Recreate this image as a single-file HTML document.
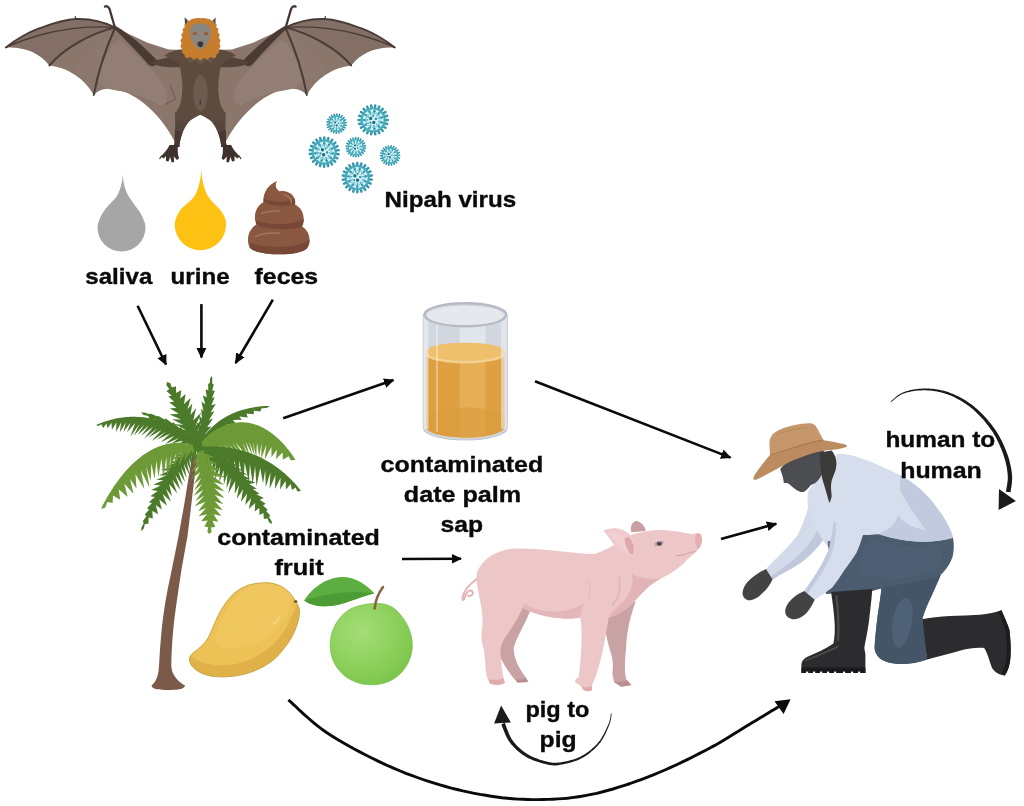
<!DOCTYPE html>
<html><head><meta charset="utf-8">
<style>
html,body{margin:0;padding:0;background:#fff;}
body{width:1024px;height:806px;overflow:hidden;font-family:"Liberation Sans",sans-serif;}
svg{display:block;position:absolute;left:0;top:0;}
text{font-family:"Liberation Sans",sans-serif;font-weight:bold;font-size:22px;fill:#0a0a0a;stroke:#0a0a0a;stroke-width:0.35px;}
</style></head><body>
<svg width="1024" height="806" viewBox="0 0 1024 806">
<defs>
<marker id="ah" viewBox="0 0 10 10" refX="9" refY="5" markerWidth="10.5" markerHeight="10.5" markerUnits="userSpaceOnUse" orient="auto"><path d="M0,0.3 L10,5 L0,9.7 Z" fill="#0a0a0a"/></marker>
<filter id="idf" x="0" y="0" width="1024" height="806" filterUnits="userSpaceOnUse" color-interpolation-filters="sRGB"><feOffset dx="0" dy="0"/></filter>
</defs>
<rect width="1024" height="806" fill="#fff"/>

<!--BAT-->
<defs>
<g id="batwing">
<!-- membrane -->
<path d="M5.9,47.4 C15,40 30,31 42.2,27.4 C55,22.5 66,19.5 75.9,19 C88,18.5 102,21 114.9,27.4 L147.6,42.8 L168.7,49.5 L184,50 L184,116 L178,125 L175.6,143.2 C152,97 110,78 93.8,94.9 C84.3,78 67.5,67.5 49.5,65.4 C40,52.7 23.2,46.4 5.9,47.4 Z" fill="#8a766b"/>
<!-- darker outer panels -->
<path d="M5.9,47.4 C15,40 30,31 42.2,27.4 C55,22.5 66,19.5 75.9,19 C88,18.5 102,21 114.9,27.4 C88,36 66,50 49.5,65.4 C40,52.7 23.2,46.4 5.9,47.4 Z" fill="#836f66"/>
<!-- lighter inner patches -->
<path d="M119,40 C130,48 142,60 150,68 C158,76 166,86 167,95 C167.5,102 163,107 157,104 C146,98 132,93 120,91 C110,89.5 101,88 99,82 C98,74 102,64 106,56 C110,48 114,42 119,40 Z" fill="#927e74"/>
<path d="M112,33 C100,42 86,54 78,64 C72,70 74,74 82,76 C90,79 96,84 99,82 C100,70 106,52 112,33 Z" fill="#8e7a70" opacity="0.6"/>
<!-- fingers -->
<g fill="none" stroke="#4b3b36" stroke-linecap="round">
<path d="M114.9,27.4 C102,21 88,18.5 75.9,19 C66,19.5 55,22.5 42.2,27.4 C30,31 15,40 5.9,47.4" stroke-width="1.9"/>
<path d="M114.9,27.4 C90,25.5 66,28 42,34.5 C28,38.5 14,43.5 5.9,47.4" stroke-width="1.3"/>
<path d="M114.9,27.4 C90,34 64,48 49.5,65.4" stroke-width="2"/>
<path d="M114.9,28 C106,48 98,72 93.8,94.9" stroke-width="2"/>
<path d="M76,19.2 L75.2,16.6" stroke-width="1.2"/>
</g>
<!-- arm -->
<path d="M113.8,28.6 C124,38 137,52 149,65 C151,66.6 153.5,66.8 155,65.6 L156.5,59.5 C145,48 130,34 116.2,26.2 Z" fill="#493a34"/>
<path d="M150,62 C161,59 172,56.5 184,54 L184,67 C172,67.5 158,68 150,62 Z" fill="#524238"/>
<!-- thumb -->
<path d="M114.9,27.4 C113,21 111,14 109.5,9 C108.5,6.5 106.5,5.8 105,6.6" fill="none" stroke="#453631" stroke-width="2.3" stroke-linecap="round"/>
</g>
</defs>
<g>
<use href="#batwing"/>
<use href="#batwing" transform="translate(400.6,0) scale(-1,1)"/>
<!-- legs -->
<path d="M175.2,112 C175.2,117 175.2,121 175.2,125.2 C175,131 174.8,137 174.6,142.7 L173.6,147 L179.4,147 L179.8,142.7 C180.6,138.6 181.8,134.6 183.4,131 C185,127.4 187,124.2 189.2,121.6 C192.4,118.6 196,116.4 200.3,114.8 C204.6,116.4 208.2,118.6 211.4,121.6 C213.6,124.2 215.6,127.4 217.2,131 C218.8,134.6 220,138.6 220.8,142.7 L221.2,147 L227,147 L226,142.7 C225.8,137 225.6,131 225.4,125.2 C225.4,121 225.4,117 225.4,112 Z" fill="#56453b"/>
<path d="M174.9,130 L174.6,142.7 L173.6,147 L179.4,147 L179.8,142.7 C180.4,139 181.4,135.6 182.6,132.6 Z" fill="#483933"/>
<path d="M225.7,130 L226,142.7 L227,147 L221.2,147 L220.8,142.7 C220.2,139 219.2,135.6 218,132.6 Z" fill="#483933"/>
<!-- feet -->
<g id="batfoot">
<path d="M169.5,145 C168,149 164,153 161,156.5 L163.5,158.5 L166,156 L166,161 L168.6,161.5 L170,157 L171.8,162.5 L174.2,162 L173.8,156.5 L177,160 L179,158.5 C177.5,154 177.5,149 178,145 Z" fill="#3f322d"/>
<path d="M161.5,156 L159.8,158.6" stroke="#3f322d" stroke-width="1.2" stroke-linecap="round"/>
</g>
<use href="#batfoot" transform="translate(400.6,0) scale(-1,1)"/>
<!-- torso -->
<path d="M164.5,55.5 C170,51 180,49 188,49 L212.6,49 C220.6,49 230.6,51 236.1,55.5 C230,59 224,62 221.4,64 C219.5,72 218.3,80 218.2,86 C218.2,94 219.6,102 221,106 C223.6,110 225.6,114 225.8,118 C220,124 212,121 206,117.5 L200.3,114.6 L194.6,117.5 C188.6,121 180.6,124 174.8,118 C175,114 177,110 179.6,106 C181,102 182.4,94 182.4,86 C182.3,80 181.1,72 179.2,64 C176.6,62 170.6,59 164.5,55.5 Z" fill="#5d4b40"/>
<ellipse cx="200.4" cy="93" rx="7.2" ry="18" fill="#6d5b4f"/>
<path d="M200.3,100 L200.3,104" stroke="#40332d" stroke-width="1.2" stroke-linecap="round"/>
<!-- ears -->
<path d="M184.6,17.2 L191.5,24 L185.2,29 Z" fill="#444a54"/>
<path d="M215.6,17.6 L209.2,24 L215.4,29 Z" fill="#444a54"/>
<!-- ruff -->
<path d="M200.4,18.2 C205,17.8 209.5,18.6 212,21 L213.6,20.4 L214.6,23.6 L216.6,24.2 L216.4,27.4 L218.6,29 L217.8,32 L219.8,34.4 L218.8,37.6 L220.6,40.4 L219.4,43.4 L220.6,46.6 L218.8,49.4 L219.2,52.6 L216.6,54.6 L215.8,57.6 L213.5,58.2 L210.5,57 L207.5,60 L204,58 L200.4,61 L197,58 L193.5,60 L190.5,57 L187.5,58.2 L185.2,57.6 L184.4,54.6 L181.8,52.6 L182.2,49.4 L180.4,46.6 L181.6,43.4 L180.4,40.4 L182.2,37.6 L181.2,34.4 L183.2,32 L182.4,29 L184.6,27.4 L184.4,24.2 L186.4,23.6 L187.4,20.4 L189,21 C191.5,18.6 196,17.8 200.4,18.2 Z" fill="#c77d2e"/>
<path d="M187.5,58.2 L190.5,57 L193.5,60 L197,58 L200.4,61 L204,58 L207.5,60 L210.5,57 L213.5,58.2 L211,63 L206,60.5 L200.4,64.5 L195,60.5 L190,63 Z" fill="#6a5648"/>
<!-- face -->
<path d="M200.4,23.5 C206,23.3 210.5,25.5 211,31 C211.4,37 208.5,42 205.8,45.5 C204.5,48 202.5,49 200.4,49 C198.3,49 196.3,48 195,45.5 C192.3,42 189.4,37 189.8,31 C190.3,25.5 194.8,23.3 200.4,23.5 Z" fill="#8b8580"/>
<ellipse cx="194.8" cy="33.6" rx="2.3" ry="1.7" fill="#9c5a2c"/>
<ellipse cx="206" cy="33.6" rx="2.3" ry="1.7" fill="#9c5a2c"/>
<path d="M197.6,42.5 C198.5,41 202.3,41 203.2,42.5 C203.6,45 202.4,47.2 200.4,47.3 C198.4,47.2 197.2,45 197.6,42.5 Z" fill="#3b3436"/>
<!-- scratch marks on left wing -->
<path d="M170.5,85.5 L175.5,99 L165.5,104.5" fill="none" stroke="#7b4a44" stroke-width="0.9" stroke-linecap="round"/>
</g>
<!--/BAT-->

<!--VIRUS-->
<defs><g id="vir">
<circle r="12.6" fill="#d6f3f6"/>
<line x1="11.80" y1="0.00" x2="14.70" y2="0.00" stroke="#3698ac" stroke-width="2.5" stroke-linecap="round"/>
<line x1="11.32" y1="3.32" x2="14.10" y2="4.14" stroke="#3698ac" stroke-width="2.5" stroke-linecap="round"/>
<line x1="9.93" y1="6.38" x2="12.37" y2="7.95" stroke="#3698ac" stroke-width="2.5" stroke-linecap="round"/>
<line x1="7.73" y1="8.92" x2="9.63" y2="11.11" stroke="#3698ac" stroke-width="2.5" stroke-linecap="round"/>
<line x1="4.90" y1="10.73" x2="6.11" y2="13.37" stroke="#3698ac" stroke-width="2.5" stroke-linecap="round"/>
<line x1="1.68" y1="11.68" x2="2.09" y2="14.55" stroke="#3698ac" stroke-width="2.5" stroke-linecap="round"/>
<line x1="-1.68" y1="11.68" x2="-2.09" y2="14.55" stroke="#3698ac" stroke-width="2.5" stroke-linecap="round"/>
<line x1="-4.90" y1="10.73" x2="-6.11" y2="13.37" stroke="#3698ac" stroke-width="2.5" stroke-linecap="round"/>
<line x1="-7.73" y1="8.92" x2="-9.63" y2="11.11" stroke="#3698ac" stroke-width="2.5" stroke-linecap="round"/>
<line x1="-9.93" y1="6.38" x2="-12.37" y2="7.95" stroke="#3698ac" stroke-width="2.5" stroke-linecap="round"/>
<line x1="-11.32" y1="3.32" x2="-14.10" y2="4.14" stroke="#3698ac" stroke-width="2.5" stroke-linecap="round"/>
<line x1="-11.80" y1="0.00" x2="-14.70" y2="0.00" stroke="#3698ac" stroke-width="2.5" stroke-linecap="round"/>
<line x1="-11.32" y1="-3.32" x2="-14.10" y2="-4.14" stroke="#3698ac" stroke-width="2.5" stroke-linecap="round"/>
<line x1="-9.93" y1="-6.38" x2="-12.37" y2="-7.95" stroke="#3698ac" stroke-width="2.5" stroke-linecap="round"/>
<line x1="-7.73" y1="-8.92" x2="-9.63" y2="-11.11" stroke="#3698ac" stroke-width="2.5" stroke-linecap="round"/>
<line x1="-4.90" y1="-10.73" x2="-6.11" y2="-13.37" stroke="#3698ac" stroke-width="2.5" stroke-linecap="round"/>
<line x1="-1.68" y1="-11.68" x2="-2.09" y2="-14.55" stroke="#3698ac" stroke-width="2.5" stroke-linecap="round"/>
<line x1="1.68" y1="-11.68" x2="2.09" y2="-14.55" stroke="#3698ac" stroke-width="2.5" stroke-linecap="round"/>
<line x1="4.90" y1="-10.73" x2="6.11" y2="-13.37" stroke="#3698ac" stroke-width="2.5" stroke-linecap="round"/>
<line x1="7.73" y1="-8.92" x2="9.63" y2="-11.11" stroke="#3698ac" stroke-width="2.5" stroke-linecap="round"/>
<line x1="9.93" y1="-6.38" x2="12.37" y2="-7.95" stroke="#3698ac" stroke-width="2.5" stroke-linecap="round"/>
<line x1="11.32" y1="-3.32" x2="14.10" y2="-4.14" stroke="#3698ac" stroke-width="2.5" stroke-linecap="round"/>
<circle r="11.6" fill="none" stroke="#48aabb" stroke-width="2"/>
<line x1="5.37" y1="1.58" x2="9.98" y2="2.93" stroke="#55b5c4" stroke-width="1.5" stroke-linecap="round"/>
<circle cx="8.54" cy="2.51" r="1.25" fill="#3698ac"/>
<line x1="3.67" y1="4.23" x2="6.81" y2="7.86" stroke="#55b5c4" stroke-width="1.5" stroke-linecap="round"/>
<circle cx="5.83" cy="6.73" r="1.25" fill="#3698ac"/>
<line x1="0.80" y1="5.54" x2="1.48" y2="10.29" stroke="#55b5c4" stroke-width="1.5" stroke-linecap="round"/>
<circle cx="1.27" cy="8.81" r="1.25" fill="#3698ac"/>
<line x1="-2.33" y1="5.09" x2="-4.32" y2="9.46" stroke="#55b5c4" stroke-width="1.5" stroke-linecap="round"/>
<circle cx="-3.70" cy="8.10" r="1.25" fill="#3698ac"/>
<line x1="-4.71" y1="3.03" x2="-8.75" y2="5.62" stroke="#55b5c4" stroke-width="1.5" stroke-linecap="round"/>
<circle cx="-7.49" cy="4.81" r="1.25" fill="#3698ac"/>
<line x1="-5.60" y1="0.00" x2="-10.40" y2="0.00" stroke="#55b5c4" stroke-width="1.5" stroke-linecap="round"/>
<circle cx="-8.90" cy="0.00" r="1.25" fill="#3698ac"/>
<line x1="-4.71" y1="-3.03" x2="-8.75" y2="-5.62" stroke="#55b5c4" stroke-width="1.5" stroke-linecap="round"/>
<circle cx="-7.49" cy="-4.81" r="1.25" fill="#3698ac"/>
<line x1="-2.33" y1="-5.09" x2="-4.32" y2="-9.46" stroke="#55b5c4" stroke-width="1.5" stroke-linecap="round"/>
<circle cx="-3.70" cy="-8.10" r="1.25" fill="#3698ac"/>
<line x1="0.80" y1="-5.54" x2="1.48" y2="-10.29" stroke="#55b5c4" stroke-width="1.5" stroke-linecap="round"/>
<circle cx="1.27" cy="-8.81" r="1.25" fill="#3698ac"/>
<line x1="3.67" y1="-4.23" x2="6.81" y2="-7.86" stroke="#55b5c4" stroke-width="1.5" stroke-linecap="round"/>
<circle cx="5.83" cy="-6.73" r="1.25" fill="#3698ac"/>
<line x1="5.37" y1="-1.58" x2="9.98" y2="-2.93" stroke="#55b5c4" stroke-width="1.5" stroke-linecap="round"/>
<circle cx="8.54" cy="-2.51" r="1.25" fill="#3698ac"/>
<circle cx="7.30" cy="0.00" r="0.95" fill="#86d0da"/>
<circle cx="6.14" cy="3.95" r="0.95" fill="#86d0da"/>
<circle cx="3.03" cy="6.64" r="0.95" fill="#86d0da"/>
<circle cx="-1.04" cy="7.23" r="0.95" fill="#86d0da"/>
<circle cx="-4.78" cy="5.52" r="0.95" fill="#86d0da"/>
<circle cx="-7.00" cy="2.06" r="0.95" fill="#86d0da"/>
<circle cx="-7.00" cy="-2.06" r="0.95" fill="#86d0da"/>
<circle cx="-4.78" cy="-5.52" r="0.95" fill="#86d0da"/>
<circle cx="-1.04" cy="-7.23" r="0.95" fill="#86d0da"/>
<circle cx="3.03" cy="-6.64" r="0.95" fill="#86d0da"/>
<circle cx="6.14" cy="-3.95" r="0.95" fill="#86d0da"/>
<circle cx="-2.60" cy="-1.40" r="1.70" fill="#1f6f86"/>
<circle cx="0.60" cy="2.60" r="1.70" fill="#1f6f86"/>
<circle cx="2.80" cy="-1.00" r="1.30" fill="#3a93a8"/>
<circle cx="-0.20" cy="-3.80" r="1.10" fill="#3a93a8"/>
<circle cx="-2.80" cy="2.80" r="1.10" fill="#3a93a8"/>
</g></defs>
<use href="#vir" transform="translate(336.6,123.6) rotate(10) scale(0.656)"/>
<use href="#vir" transform="translate(373.2,119.9) rotate(0) scale(0.994)"/>
<use href="#vir" transform="translate(324.2,152.1) rotate(25) scale(0.994)"/>
<use href="#vir" transform="translate(355.8,147.2) rotate(40) scale(0.656)"/>
<use href="#vir" transform="translate(390.0,155.5) rotate(15) scale(0.656)"/>
<use href="#vir" transform="translate(357.3,177.6) rotate(8) scale(0.994)"/>
<!--/VIRUS-->

<!--DROPS-->
<path d="M122.7,174 C123.2,184 125.5,191 128.8,196.6 C131.5,201 134.5,205 137.4,208.8 C140.5,213 143,217 144,221 C145,223 145.5,225.5 145.5,227.6 A24,24 0 1 1 97.5,227.6 C97.5,225.5 98,223 99,221 C100,217 102.5,213 105.6,208.8 C108.5,205 113.5,201 116.6,196.6 C120,191 122.2,184 122.7,174 Z" fill="#a6a6a6"/>
<path d="M201.3,169.2 C201.8,181 204.5,190 208.2,196.6 C211.5,201.5 215.5,205 219.2,208.8 C222.5,212.5 225,217 225.8,221 C226,222.5 226,223.5 226,224.7 A25.6,25.6 0 1 1 174.8,224.7 C174.8,223.5 174.9,222.5 175.2,221 C176,217 178.5,212.5 181.3,208.8 C185,205 190.5,201.5 194.3,196.6 C198,190 200.8,181 201.3,169.2 Z" fill="#fdc113"/>
<g>
<!-- feces -->
<path d="M277.5,180.8 C268.5,184.5 262.5,192.5 263.6,202 C256,206 252.8,216 256.4,224.6 C248.5,229 246,240 249.6,247.2 C255,256 301,257 307.2,248 C311.6,241.5 309.8,231 302,226.5 C305.6,219 303.6,208.5 295,204.4 C296.4,196 289,189.4 279.4,191.2 C275.4,188.6 274.6,184 277.5,180.8 Z" fill="#8a5741"/>
<path d="M249.6,247.2 C255,256 301,257 307.2,248 C309,245.4 309.6,242.4 309.4,239.6 C303,247.6 266,249.8 250.4,243 C250,244.6 249.4,246 249.6,247.2 Z" fill="#784836"/>
<path d="M256.4,224.6 C266,230.6 293,230.4 302,226.5 C303.2,224 303.8,221.4 303.8,219 C294,225 270,226 256,220.4 C255.8,221.8 256,223.2 256.4,224.6 Z" fill="#784836"/>
<path d="M263.6,202 C271,206.6 288,206.4 295,204.4 C295.4,202.4 295.2,200.4 294.6,198.6 C287,203 274,203 263.6,198.6 C263.4,199.6 263.4,200.8 263.6,202 Z" fill="#784836"/>
<path d="M284.5,194.6 C289.5,196.4 291.8,199.4 291.4,203" stroke="#a47560" stroke-width="1.5" fill="none" stroke-linecap="round"/>
<path d="M261.6,213.4 C267,211.4 273,210.8 279,211" stroke="#a47560" stroke-width="1.5" fill="none" stroke-linecap="round"/>
<path d="M255.6,236.4 C262,233.6 270,232.8 279,233.2" stroke="#a47560" stroke-width="1.5" fill="none" stroke-linecap="round"/>
</g>
<!--/DROPS-->

<!--PALM-->
<g>
<path d="M192,455 L190.6,465.8 C188.5,478 186.4,491 184.2,504.5 C182.3,515 180.4,526 178.4,536.8 C176.3,547.5 174.1,558 171.9,569 C169.7,580 167.3,590.5 165.5,601.3 C163.8,612 162.3,622.5 161.3,633.5 C160.3,644 159.6,655 159,665.8 C158.6,674 157,681 151.5,685.5 C152,689.5 160,690 168,690 C176,690 184.5,689.5 185,685.5 C177,681 171.5,674 171.3,665.8 C171.4,655 172,644 172.9,633.5 C173.9,622.5 175.2,612 176.8,601.3 C178.3,590.5 179.9,580 181.6,569 C183.5,558 185.5,547.5 187.4,536.8 C188.8,526 190.1,515 191.3,504.5 C192.9,491 194.5,478 196.1,465.8 L199,455 Z" fill="#7b5a49"/>
<path d="M198.0,448.0 L191.5,448.4 L192.6,445.7 L183.8,446.8 L187.9,443.0 L176.2,446.8 L183.3,440.4 L171.6,443.6 L178.9,438.0 L165.1,444.2 L174.5,435.7 L160.7,442.3 L170.1,433.6 L156.9,439.8 L165.8,431.7 L151.7,441.0 L161.5,429.9 L148.7,437.6 L157.2,428.3 L144.2,438.7 L152.8,426.9 L141.2,435.8 L148.5,425.7 L137.6,435.0 L144.1,424.7 L133.8,435.7 L139.7,423.8 L130.3,436.7 L135.2,423.2 L127.0,432.3 L130.6,422.7 L123.4,431.7 L125.9,422.4 L119.8,432.2 L121.2,422.3 L116.1,432.0 L116.4,422.5 L111.9,429.8 L111.5,422.8 L107.6,428.3 L106.4,423.4 L103.3,428.0 L101.3,424.2 L98.4,425.9 L96.0,425.0 L96.0,425.0 L98.5,423.9 L100.9,422.9 L103.4,422.0 L105.9,421.2 L108.4,420.4 L110.9,419.8 L113.3,419.2 L115.8,418.6 L118.3,418.1 L120.8,417.7 L123.2,417.4 L125.7,417.1 L128.2,416.9 L130.6,416.8 L133.1,416.8 L135.6,416.8 L138.0,416.9 L140.4,417.0 L142.9,417.3 L145.3,417.6 L147.7,418.0 L150.1,418.4 L152.5,419.0 L154.9,419.6 L157.3,420.2 L159.7,421.0 L162.0,421.8 L164.3,422.7 L166.6,423.7 L168.9,424.8 L171.2,425.9 L173.5,427.1 L175.7,428.4 L177.9,429.8 L180.1,431.2 L182.3,432.7 L184.4,434.3 L186.5,436.0 L188.6,437.7 L190.6,439.5 L192.6,441.4 L194.5,443.4 L196.4,445.5 L198.0,448.0 Z" fill="#4b7a2a"/>
<path d="M198.0,448.0 L190.5,446.3 L190.0,443.1 L181.7,440.8 L182.8,437.9 L173.7,436.4 L175.9,432.9 L167.0,431.7 L169.1,428.2 L160.2,428.2 L162.3,423.9 L154.5,423.8 L155.4,419.8 L149.2,418.9 L148.3,416.0 L143.5,415.1 L141.0,412.5 L141.0,412.5 L144.3,412.6 L149.0,413.9 L151.2,413.8 L156.9,416.3 L158.3,416.0 L164.6,419.4 L165.8,418.6 L172.2,423.3 L173.3,422.3 L179.4,428.1 L180.8,427.2 L186.3,433.7 L187.5,434.2 L192.7,440.2 L194.6,442.2 L198.0,448.0 Z" fill="#4b7a2a"/>
<path d="M198.0,448.0 L192.4,444.7 L193.8,444.2 L186.2,439.3 L190.9,439.8 L180.7,434.6 L188.3,435.1 L178.8,428.8 L185.8,430.1 L175.1,424.1 L183.4,424.9 L172.1,419.3 L181.1,419.5 L169.6,414.4 L178.7,413.8 L169.8,408.2 L176.4,407.9 L169.2,402.3 L174.1,401.8 L168.3,396.6 L171.7,395.4 L166.5,391.3 L169.3,388.9 L166.4,385.2 L167.0,382.0 L167.0,382.0 L170.2,383.1 L171.9,387.5 L175.9,386.3 L176.2,393.1 L181.3,389.9 L180.2,398.6 L185.6,394.0 L184.0,404.1 L190.8,397.8 L187.4,409.6 L192.3,403.5 L190.5,415.0 L196.2,408.1 L193.2,420.5 L201.3,412.4 L195.5,425.9 L202.1,418.9 L197.4,431.3 L203.7,425.2 L198.7,436.7 L202.5,433.0 L199.3,442.1 L201.6,441.3 L198.0,448.0 Z" fill="#4b7a2a"/>
<path d="M198.0,448.0 L196.6,441.0 L198.0,440.1 L196.8,431.2 L199.1,432.7 L196.9,422.6 L200.5,425.5 L198.8,415.2 L202.0,418.4 L201.1,408.4 L203.6,411.3 L201.4,401.6 L205.2,404.3 L202.9,395.4 L206.8,397.2 L205.6,389.6 L208.3,390.2 L208.1,383.9 L209.8,383.1 L210.1,378.4 L211.5,376.0 L211.5,376.0 L212.4,378.6 L212.1,383.3 L213.8,384.4 L212.2,390.6 L214.9,390.7 L212.0,397.9 L214.7,397.1 L211.4,405.2 L215.8,404.1 L210.5,412.6 L214.5,411.1 L209.1,419.9 L213.0,418.5 L207.3,427.1 L211.3,426.4 L205.0,434.3 L207.2,434.3 L202.2,441.4 L202.5,442.9 L198.0,448.0 Z" fill="#4b7a2a"/>
<path d="M198.0,448.0 L199.3,444.0 L201.2,440.5 L203.4,437.1 L205.7,434.0 L208.3,431.0 L211.0,428.1 L213.8,425.5 L216.8,423.0 L219.9,420.6 L223.2,418.5 L226.5,416.5 L230.0,414.7 L233.6,413.1 L237.3,411.6 L241.1,410.3 L245.0,409.2 L248.9,408.2 L253.0,407.4 L257.1,406.8 L261.3,406.3 L265.6,406.0 L270.0,406.0 L270.0,406.0 L266.7,408.0 L261.7,408.2 L260.2,411.5 L253.8,410.6 L253.8,414.3 L246.4,413.4 L247.8,417.4 L239.4,416.6 L241.7,419.8 L232.9,420.1 L237.0,424.9 L226.7,424.0 L230.8,427.3 L220.8,428.2 L224.7,430.7 L215.2,432.7 L218.3,434.7 L209.7,437.6 L212.5,440.2 L204.2,442.8 L203.8,444.9 L198.0,448.0 Z" fill="#4b7a2a"/>
<path d="M198.0,448.0 L197.6,453.8 L196.1,450.6 L195.8,459.0 L193.9,452.9 L195.3,464.6 L191.6,455.3 L192.2,466.9 L189.1,458.0 L190.7,470.9 L186.6,460.9 L189.6,475.2 L183.9,464.0 L186.7,478.1 L181.2,467.5 L185.0,482.1 L178.4,471.2 L182.9,486.1 L175.4,475.1 L180.5,490.0 L172.4,479.4 L177.2,493.5 L169.2,483.9 L172.0,496.2 L166.0,488.8 L170.8,501.6 L162.7,493.9 L167.0,505.7 L159.3,499.4 L161.9,509.5 L155.8,505.1 L158.2,514.3 L152.3,511.1 L152.8,518.6 L148.6,517.5 L148.5,523.7 L144.9,524.1 L143.7,528.7 L141.0,531.0 L141.0,531.0 L141.5,527.6 L143.6,523.5 L142.9,520.9 L146.4,516.3 L144.8,514.4 L149.2,509.5 L146.9,508.3 L152.0,503.1 L148.8,502.3 L154.9,496.9 L150.3,496.2 L157.7,491.0 L151.3,490.0 L160.6,485.5 L153.4,484.6 L163.5,480.3 L156.3,479.8 L166.4,475.4 L159.1,475.3 L169.3,470.8 L160.6,469.9 L172.2,466.6 L165.0,466.7 L175.2,462.7 L169.0,463.5 L178.3,459.2 L170.8,458.5 L181.4,456.0 L175.2,455.9 L184.5,453.3 L179.2,453.0 L187.7,451.0 L182.2,449.1 L190.9,449.2 L187.9,448.3 L194.3,447.9 L193.5,447.4 L198.0,448.0 Z" fill="#4b7a2a"/>
<path d="M198.0,448.0 L203.0,447.6 L203.1,448.1 L209.9,448.4 L207.9,449.5 L216.5,449.3 L212.5,451.5 L221.3,453.0 L217.0,453.8 L226.7,455.4 L221.4,456.5 L231.1,459.2 L225.7,459.6 L237.3,460.7 L229.9,462.9 L240.5,465.7 L234.0,466.6 L243.6,470.6 L238.0,470.6 L247.6,474.6 L241.9,474.8 L250.8,479.3 L245.7,479.3 L255.6,482.6 L249.3,484.0 L257.0,488.8 L252.9,489.0 L259.7,494.0 L256.3,494.3 L263.8,498.1 L259.7,499.7 L265.7,503.8 L263.0,505.4 L267.6,509.6 L266.2,511.3 L270.0,515.1 L269.2,517.5 L271.6,521.0 L272.0,524.0 L272.0,524.0 L269.1,522.5 L267.6,518.5 L263.8,519.0 L263.5,513.1 L259.5,515.0 L259.3,507.9 L254.7,511.5 L255.2,502.9 L248.7,509.1 L251.2,498.1 L245.2,505.1 L247.1,493.6 L240.9,501.9 L243.1,489.2 L236.9,498.7 L239.1,485.1 L234.8,493.9 L235.2,481.1 L228.3,493.4 L231.3,477.3 L226.5,488.5 L227.4,473.7 L223.9,484.2 L223.6,470.3 L219.3,482.2 L219.8,467.0 L215.0,480.1 L216.0,463.8 L213.2,474.4 L212.3,460.7 L210.3,469.8 L208.6,457.7 L206.4,466.4 L204.9,454.8 L203.9,459.6 L201.3,451.8 L200.1,453.6 L198.0,448.0 Z" fill="#4b7a2a"/>
<path d="M198.0,448.0 L199.6,444.7 L201.7,442.0 L203.9,439.5 L206.2,437.2 L208.6,435.1 L211.0,433.1 L213.4,431.3 L216.0,429.7 L218.5,428.2 L221.1,426.9 L223.7,425.7 L226.4,424.7 L229.0,423.9 L231.7,423.2 L234.4,422.7 L237.1,422.4 L239.8,422.2 L242.6,422.2 L245.3,422.4 L248.0,422.7 L250.6,423.2 L253.3,423.9 L255.9,424.7 L258.5,425.6 L261.1,426.8 L263.6,428.0 L266.1,429.4 L268.6,431.0 L271.0,432.7 L273.4,434.5 L275.7,436.4 L278.1,438.5 L280.4,440.7 L282.6,443.1 L284.9,445.5 L287.1,448.2 L289.3,450.9 L291.4,453.8 L293.5,456.8 L295.5,460.0 L295.5,460.0 L290.7,460.3 L288.7,456.2 L282.8,459.7 L282.6,452.6 L276.0,459.1 L276.9,449.5 L271.5,457.3 L271.4,447.0 L264.7,459.6 L266.3,445.0 L261.2,458.8 L261.5,443.6 L259.2,456.6 L257.0,442.6 L256.2,457.2 L252.9,442.0 L254.6,455.5 L249.1,441.7 L252.6,455.6 L245.6,441.7 L250.6,458.7 L242.3,441.9 L249.3,459.9 L239.0,442.1 L247.5,456.4 L235.6,442.5 L246.4,460.3 L232.0,443.0 L244.0,459.7 L228.1,443.7 L240.3,458.0 L223.7,444.5 L235.4,456.8 L218.8,445.6 L229.3,456.0 L213.3,446.9 L220.2,453.6 L206.9,448.2 L207.6,450.4 L198.0,448.0 Z" fill="#6d9a36"/>
<path d="M198.0,448.0 L201.3,447.1 L204.6,446.8 L207.9,446.5 L211.1,446.4 L214.4,446.4 L217.6,446.5 L220.7,446.7 L223.9,447.0 L227.0,447.4 L230.1,447.8 L233.1,448.4 L236.2,449.0 L239.2,449.7 L242.1,450.5 L245.0,451.4 L247.9,452.3 L250.8,453.3 L253.6,454.4 L256.4,455.6 L259.1,456.8 L261.8,458.1 L264.4,459.5 L267.1,461.0 L269.6,462.5 L272.2,464.1 L274.6,465.8 L277.1,467.5 L279.5,469.3 L281.9,471.2 L284.2,473.1 L286.4,475.1 L288.7,477.2 L290.9,479.3 L293.0,481.5 L295.1,483.8 L297.1,486.1 L299.1,488.5 L301.0,491.0 L301.0,491.0 L297.3,491.4 L295.7,487.5 L291.9,490.0 L290.7,484.0 L286.0,489.6 L285.6,480.8 L280.1,489.5 L280.6,477.8 L274.9,489.0 L275.5,475.0 L269.6,489.1 L270.4,472.5 L265.7,487.3 L265.3,470.1 L263.0,483.2 L260.2,467.9 L256.5,486.5 L255.1,465.9 L252.7,484.5 L249.9,464.0 L248.8,482.0 L244.6,462.2 L243.6,482.9 L239.2,460.6 L239.1,481.4 L233.8,459.0 L234.9,477.0 L228.3,457.4 L230.3,471.4 L222.6,456.0 L224.6,468.3 L216.7,454.5 L218.4,464.9 L210.7,452.9 L211.5,460.4 L204.5,451.2 L203.5,454.7 L198.0,448.0 Z" fill="#4b7a2a"/>
<path d="M198.0,448.0 L191.7,453.8 L191.9,450.0 L183.9,461.2 L186.4,451.0 L178.2,467.0 L181.2,452.1 L173.5,467.6 L176.1,453.3 L169.5,470.9 L171.2,454.7 L167.0,477.6 L166.3,456.4 L163.4,478.5 L161.4,458.4 L158.4,477.0 L156.4,460.8 L154.6,478.9 L151.3,463.5 L150.7,481.2 L146.2,466.6 L149.5,487.5 L140.9,470.2 L144.3,489.0 L135.5,474.2 L136.5,488.6 L130.0,478.7 L133.5,493.8 L124.4,483.8 L127.7,497.1 L118.8,489.4 L120.2,499.7 L113.0,495.4 L112.6,503.1 L107.2,502.0 L105.4,507.4 L101.0,509.0 L101.0,509.0 L103.0,504.8 L105.2,500.7 L107.4,496.8 L109.7,493.0 L112.0,489.4 L114.3,485.8 L116.7,482.4 L119.1,479.2 L121.6,476.0 L124.0,473.0 L126.6,470.1 L129.1,467.4 L131.7,464.7 L134.3,462.3 L137.0,459.9 L139.7,457.7 L142.4,455.6 L145.2,453.7 L148.0,451.9 L150.8,450.2 L153.7,448.7 L156.6,447.4 L159.6,446.2 L162.5,445.2 L165.5,444.4 L168.5,443.7 L171.6,443.2 L174.6,442.9 L177.6,442.7 L180.6,442.8 L183.7,443.0 L186.6,443.4 L189.6,444.0 L192.5,444.9 L195.4,446.0 L198.0,448.0 Z" fill="#6d9a36"/>
<path d="M198.0,448.0 L204.8,451.5 L203.0,452.6 L214.3,457.2 L206.2,458.0 L218.1,464.3 L208.9,463.7 L221.3,471.2 L210.9,469.6 L225.7,477.6 L212.5,475.7 L224.3,484.9 L213.7,481.9 L224.7,491.5 L214.4,488.3 L224.6,497.9 L214.8,494.7 L223.2,504.2 L214.7,501.2 L222.7,510.2 L214.3,507.7 L221.4,516.1 L213.6,514.3 L218.3,521.7 L212.5,520.8 L215.3,527.0 L211.0,527.4 L211.6,532.0 L209.0,534.0 L209.0,534.0 L207.3,531.6 L208.3,527.2 L204.3,526.4 L207.7,520.6 L201.1,521.2 L207.0,514.2 L198.7,516.2 L206.2,507.9 L198.2,511.2 L205.3,501.7 L194.7,506.3 L204.4,495.6 L195.4,501.1 L203.4,489.7 L193.5,496.1 L202.4,483.8 L194.0,490.5 L201.3,478.0 L193.9,484.6 L200.2,472.2 L190.8,479.2 L199.2,466.4 L191.0,472.5 L198.3,460.6 L192.9,464.6 L197.5,454.6 L195.8,455.0 L198.0,448.0 Z" fill="#6d9a36"/>
<circle cx="198" cy="447" r="5" fill="#4b7a2a"/>
</g>
<!--/PALM-->

<!--FRUIT-->
<defs>
<radialGradient id="gv" cx="0.38" cy="0.35" r="0.7">
<stop offset="0" stop-color="#a4dc78"/><stop offset="0.55" stop-color="#8fd25e"/><stop offset="1" stop-color="#7cc44c"/>
</radialGradient>
<clipPath id="mgc"><path d="M295.5,601 C291,593 285,587.5 278.4,585.2 C272,582.5 268,582.6 262,582.9 C257,583.2 252,584 248,585.2 C241,588 236,591 231.6,595.8 C225,603 221,609.5 217.5,616.9 C214,624.5 211.5,631 208.1,638 C204.5,644 199,648.5 194.1,652 C191,654.5 189,657 189.4,660.2 C190,663.5 191.5,666 194.1,668.4 C200,673.5 207,675.8 215.2,676.6 C223,677.3 231,676.8 238.6,675.5 C248,673.8 256.5,670.6 264.4,666.1 C272,661.8 278,656.5 283.1,649.7 C288.5,643 292,637.5 294.8,630.9 C297.5,624.5 299.2,618.5 299.5,612.2 C299.7,608 298,604.5 295.5,601 Z"/></clipPath>
</defs>
<g>
<!-- mango -->
<path d="M295.5,601 C291,593 285,587.5 278.4,585.2 C272,582.5 268,582.6 262,582.9 C257,583.2 252,584 248,585.2 C241,588 236,591 231.6,595.8 C225,603 221,609.5 217.5,616.9 C214,624.5 211.5,631 208.1,638 C204.5,644 199,648.5 194.1,652 C191,654.5 189,657 189.4,660.2 C190,663.5 191.5,666 194.1,668.4 C200,673.5 207,675.8 215.2,676.6 C223,677.3 231,676.8 238.6,675.5 C248,673.8 256.5,670.6 264.4,666.1 C272,661.8 278,656.5 283.1,649.7 C288.5,643 292,637.5 294.8,630.9 C297.5,624.5 299.2,618.5 299.5,612.2 C299.7,608 298,604.5 295.5,601 Z" fill="#dfb148"/>
<g clip-path="url(#mgc)">
<path d="M300,590 C296,584 270,578 250,582 C228,590 215,615 207,636 C202,646 196,652 190,655 C196,662 214,668 236,664 C262,658 282,640 290,620 C294,610 300,600 300,590 Z" fill="#ecc257"/>
<path d="M290,590 C280,582 262,582 250,586 C234,594 224,612 218,628 C214,640 214,646 222,648 C240,652 262,642 274,632 C286,620 294,604 290,590 Z" fill="#efc75e"/>
</g>
<path d="M295.5,601 C291,593 285,587.5 278.4,585.2 C272,582.5 268,582.6 262,582.9 C257,583.2 252,584 248,585.2 C241,588 236,591 231.6,595.8 C225,603 221,609.5 217.5,616.9 C214,624.5 211.5,631 208.1,638 C204.5,644 199,648.5 194.1,652 C191,654.5 189,657 189.4,660.2 C190,663.5 191.5,666 194.1,668.4 C200,673.5 207,675.8 215.2,676.6 C223,677.3 231,676.8 238.6,675.5 C248,673.8 256.5,670.6 264.4,666.1 C272,661.8 278,656.5 283.1,649.7 C288.5,643 292,637.5 294.8,630.9 C297.5,624.5 299.2,618.5 299.5,612.2 C299.7,608 298,604.5 295.5,601 Z" fill="none" stroke="#c9a344" stroke-width="0.9"/>
<path d="M273,624 C277,622 279,619 278.5,616" stroke="#f6d67a" stroke-width="1.6" fill="none" stroke-linecap="round"/>
<ellipse cx="295.6" cy="601.4" rx="1.9" ry="1.5" fill="#8a5a2c"/>
<!-- guava leaf -->
<path d="M304.2,600.5 C312,588 326,577.5 341.7,577 C354,576.6 366,584 374.5,593.4 C362,596 350,602 336,605.2 C324,607.5 311,606 304.2,600.5 Z" fill="#5cae40"/>
<path d="M304.2,600.5 C326,593 352,590 374.5,593.4 C362,596 350,602 336,605.2 C324,607.5 311,606 304.2,600.5 Z" fill="#4c9c36"/>
<!-- guava -->
<path d="M374.5,603.5 C384,603 392,605.5 397,611 C405,619 412.5,631 412.3,646 C412,664 398,684.5 372.5,684.8 C346,685 330.5,666 330.2,646 C330,631 337,619 346.5,611.5 C353,606.5 364,604 374.5,603.5 Z" fill="url(#gv)"/>
<path d="M374.5,603.5 C384,603 392,605.5 397,611 C405,619 412.5,631 412.3,646 C412,664 398,684.5 372.5,684.8 C346,685 330.5,666 330.2,646 C330,631 337,619 346.5,611.5 C353,606.5 364,604 374.5,603.5 Z" fill="none" stroke="#7cc050" stroke-width="0.8"/>
<path d="M374.6,608.5 C375.5,600 378.5,593 383,587" stroke="#8b6242" stroke-width="2.6" fill="none" stroke-linecap="round"/>
</g>
<!--/FRUIT-->

<!--GLASS-->
<g>
<!-- glass body back -->
<path d="M423.4,314.8 L423.4,428 A41.9,12 0 0 0 507.2,428 L507.2,314.8 Z" fill="#d2d6df"/>
<!-- liquid -->
<path d="M426,351.6 L426,427 A39.3,10.6 0 0 0 504.6,427 L504.6,351.6 Z" fill="#dfa041"/>
<path d="M459.6,351.6 L459.6,437.4 C468,438 478,437.6 485.6,436.4 L485.6,351.6 Z" fill="#e6ae55"/>
<path d="M426,418 A39.3,10.6 0 0 1 504.6,418 L504.6,427 A39.3,10.6 0 0 1 426,427 Z" fill="#d99a3c" opacity="0.55"/>
<ellipse cx="465.3" cy="351.6" rx="39.3" ry="9" fill="#efc06c"/>
<path d="M426,351.6 A39.3,9 0 0 0 504.6,351.6 L504.6,354.5 A39.3,9 0 0 1 426,354.5 Z" fill="#f3d08e"/>
<!-- glass walls overlay -->
<path d="M423.4,314.8 L423.4,428 A41.9,12 0 0 0 507.2,428 L507.2,314.8" fill="none" stroke="#c3c6cf" stroke-width="1.2"/>
<rect x="423.4" y="316" width="5" height="113" fill="#eef0f4" opacity="0.65"/>
<rect x="501" y="316" width="6" height="113" fill="#eef0f4" opacity="0.55"/>
<rect x="436" y="324" width="2" height="108" fill="#fff" opacity="0.35"/>
<path d="M459.6,326.5 L459.6,343 C468,342.4 478,342.6 485.6,343.4 L485.6,325.5 Z" fill="#e4e7ee" opacity="0.85"/>
<!-- rim -->
<ellipse cx="465.3" cy="314.8" rx="41.9" ry="12.5" fill="#dfe2e8"/>
<ellipse cx="465.3" cy="314.8" rx="40.8" ry="11.4" fill="none" stroke="#b6bac4" stroke-width="2.6"/>
<ellipse cx="465.3" cy="314.9" rx="39" ry="9.9" fill="none" stroke="#cfd2da" stroke-width="1"/>
<ellipse cx="465.3" cy="315.4" rx="38.4" ry="9.6" fill="#e6e8ee"/>
</g>
<!--/GLASS-->

<!--PIG-->
<g transform="translate(450,500) scale(0.26365)">
<!-- far legs -->
<path d="M232,395 L305,418 C290,460 252,520 242,560 C240,600 264,640 282,665 L297,690 L256,692 C236,672 200,622 184,582 C178,540 214,470 232,395 Z" fill="#c9a2a4"/>
<path d="M585,440 C582,480 598,540 613,590 C620,620 618,640 616,660 L622,690 L650,708 L688,702 L668,680 C660,640 664,600 668,560 C670,500 684,440 704,386 L640,398 Z" fill="#c9a2a4"/>
<!-- far ear -->
<path d="M688,122 C682,102 688,86 706,79 C726,84 740,100 742,118 Z" fill="#c9a0a2"/>
<!-- tail -->
<path d="M104,298 C82,314 56,336 48,366 C45,382 52,384 55,372 C58,352 74,338 84,346 C92,354 80,370 66,362" fill="none" stroke="#e3b0b3" stroke-width="7" stroke-linecap="round"/>
<!-- body -->
<path d="M100,292 C104,240 160,194 232,185 C320,178 450,202 548,205 C585,192 608,180 628,166 C650,140 720,118 790,114 C840,114 890,124 920,130 C932,124 946,124 952,134 C960,148 956,172 940,190 C932,200 918,212 900,226 C888,240 872,254 858,264 C840,278 820,288 800,298 C782,308 765,320 750,332 C732,350 716,366 702,382 C686,400 668,416 650,426 C634,436 616,442 602,446 C596,480 590,520 584,548 C578,580 570,612 562,640 C554,668 544,690 538,704 L538,722 C528,728 512,726 504,718 L494,704 L476,692 C472,684 478,676 488,672 C492,640 496,600 498,560 C500,520 500,480 494,446 C460,452 420,452 390,446 C350,440 310,428 276,410 C262,440 240,478 214,514 C196,540 188,560 192,590 C194,620 198,650 202,672 L208,692 C200,702 170,704 152,696 C144,686 138,672 136,650 C134,620 132,590 128,566 C120,540 116,516 122,480 C126,450 120,410 114,380 C108,350 100,320 100,292 Z" fill="#edc7c8"/>
<!-- shading -->
<path d="M276,410 C310,428 350,440 390,446 C420,452 460,452 494,446 C496,430 500,410 510,390 C470,420 400,430 350,420 C320,414 296,404 280,392 Z" fill="#e3b6b8"/>
<path d="M602,446 C616,442 634,436 650,426 C668,416 686,400 702,382 C716,366 732,350 750,332 C765,320 782,308 800,298 C760,300 720,300 690,280 C700,320 680,370 640,400 C625,415 610,430 602,446 Z" fill="#e3b4b7"/>
<path d="M640,290 C650,330 640,370 615,400" fill="none" stroke="#e0b0b3" stroke-width="5" stroke-linecap="round"/>
<path d="M520,300 C535,320 535,350 525,380" fill="none" stroke="#e4b8ba" stroke-width="4" stroke-linecap="round"/>
<!-- near ear -->
<path d="M582.6,115.7 C600,108 618,106 634.5,107.7 C652,110 668,118 681.2,131.2 C692,142 699,156 701.7,172.6 C703.5,188 702,203 696.8,213.9 C684,216 671,214 660.4,208.6 C646,199 634,186 624.3,172.6 C614,158 605,146 598.1,136.2 C592,128 586,121 582.6,115.7 Z" fill="#efc9cb"/>
<path d="M678.5,141.5 C688,151 694.5,164 696.8,177.5 C698,190 696,201 691.5,208.6 C685,205 680,199.5 675.9,193.1 C669,182 664,169 660.4,157 C659,148 668,140 678.5,141.5 Z" fill="#e0a7ab"/>
<path d="M600,124 C618,120 640,124 656,136 C664,146 662,160 668,176 C672,186 676,194 680,200 C668,198 656,190 646,180 C630,164 612,142 600,124 Z" fill="#f1d0d2"/>
<!-- snout -->
<path d="M934,128 C944,122 952,128 955,140 C958,156 952,176 940,188 C932,176 926,150 934,128 Z" fill="#e6aeb4"/>
<path d="M858,212 C880,210 905,203 930,194" fill="none" stroke="#cf9a9e" stroke-width="3.5" stroke-linecap="round"/>
<!-- eye -->
<path d="M774,166 C782,154 800,152 814,158 C806,172 790,178 776,174 Z" fill="#c7a6ae"/>
<ellipse cx="794" cy="166" rx="10" ry="7.5" fill="#4e4650"/>
<!-- hooves -->
<path d="M152,696 C170,704 200,702 208,692 L202,676 C188,684 166,684 148,680 Z" fill="#e0a9ae"/>
<path d="M504,718 C512,726 528,728 538,722 L538,704 C528,712 514,712 500,706 Z" fill="#e0a9ae"/>
<path d="M256,692 L297,690 L288,674 C276,682 262,682 250,680 Z" fill="#b88e92"/>
<path d="M622,690 L650,708 L688,702 L672,684 C656,692 640,690 622,690 Z" fill="#b88e92"/>
</g>
<!--/PIG-->

<!--FARMER-->
<g>
<!-- back boot -->
<path d="M920.3,619.4 C930,617.5 940,616.5 950,616 C960,615.6 970,615.4 979.7,614.8 C988,614 996,612.5 1001.4,610.3 C1004,616 1007,623 1009.4,629.7 C1010.5,639 1011,648 1010.5,657.1 C1010,665 1008,671 1004.8,675.4 C1000,675 995.5,673 992,668 C989.5,661 987.5,653 984.2,648 C976,647.5 968,648.5 961.4,650.3 C950,653.5 938,657 927.1,659.4 Z" fill="#2c2c2e"/>
<path d="M1001.4,610.3 C1004,616 1007,623 1009.4,629.7 C1010.5,639 1011,648 1010.5,657.1 C1010,665 1008,671 1004.8,675.4 L1001.5,674 C1004.5,669 1006.3,663 1006.8,656.5 C1007.2,648 1006.8,639 1005.6,630.5 C1003.5,624 1001,617.5 998.5,611.4 Z" fill="#1c1c1e"/>
<!-- pants -->
<path d="M863.1,533.7 L952.2,536 C954,540 954.3,548 953,555 C951,563 946,570 940.8,574.8 C938,582 934.5,589 931.7,595.4 C928,603 924.5,611 922.5,618.3 C923.5,632 925.5,646 927.1,659.4 C918,662.5 908,664.2 899.7,664 C892,663.6 886,662 881.4,659.4 C877,656.5 874.8,652 874.6,648 C874.8,640 876,631 876.8,622.8 C878,611 880.5,600 881.4,588.6 L872,591 L826,594 C824,580 826,560 830,546 L863.1,533.7 Z" fill="#4b5c6e"/>
<path d="M881.4,588.6 C890,586 905,584 920,581 C930,579 937,577 940.8,574.8 C938,582 934.5,589 931.7,595.4 C928,603 924.5,611 922.5,618.3 C923.5,632 925.5,646 927.1,659.4 C918,662.5 908,664.2 899.7,664 C892,663.6 886,662 881.4,659.4 C877,656.5 874.8,652 874.6,648 C874.8,640 876,631 876.8,622.8 C878,611 880.5,600 881.4,588.6 Z" fill="#445567"/>
<path d="M905,598 C899,600 893,612 892,626 C891.5,638 894,648 899,648 C905,647 911,633 912.5,618 C913.5,606 911,597 905,598 Z" fill="#52647a" opacity="0.8"/>
<path d="M870,540 C890,546 915,548 938,544 C946,552 942,566 930,572 C910,580 880,580 862,574 C858,566 862,550 870,540 Z" fill="#526379" opacity="0.55"/>
<!-- front boot -->
<path d="M831.1,592 L872.3,589 C871.5,600 870,612 868.8,622.8 C867.5,632 865.5,641 864.3,648 L865.4,654 L865.4,673.1 L801.4,673.1 L801.4,665 C801.6,661 804,658.5 808,656.5 C816,653 826,648.5 833.4,643.4 C834.8,637 835,630 834.6,622.8 C834,612 832.5,602 831.1,592 Z" fill="#2c2c2e"/>
<path d="M801.4,667.6 L865.4,667.6 L865.4,673.1 L801.4,673.1 Z" fill="#1a1a1c"/>
<path d="M836.5,596 C838,610 839,626 838,640" fill="none" stroke="#4c4c50" stroke-width="2.2" stroke-linecap="round"/>
<path d="M806,660.5 C816,656 828,652 838,646.5" fill="none" stroke="#4c4c50" stroke-width="1.6" stroke-linecap="round"/>
<!-- far arm (behind) -->
<path d="M814.7,483.5 C812,494 809,505 806,514.7 C803.5,522 800.5,529 797.4,535.6 C792,542.5 786,549 780,554.7 C775,559.5 770,564.5 766.1,569 L772.6,579.4 C775,578 777.5,576.4 780,574.7 C788,571 795.5,566.5 802.6,561.6 C809,556.5 815,550.5 820,544.3 C825,537.5 829,530.5 832.1,523.4 L838,500 Z" fill="#d3daea"/>
<path d="M832.1,523.4 C829,530.5 825,537.5 820,544.3 C815,550.5 809,556.5 802.6,561.6 C795.5,566.5 788,571 780,574.7 C777.5,576.4 775,578 772.6,579.4 L770.8,576.4 C780,570.5 789,564 797,556.5 C807,547.5 816,535.5 822,521 Z" fill="#bfc8dd"/>
<!-- far glove -->
<path d="M766.1,569 L772.6,579.4 C770,585 766,590 761,594.5 C757.5,598 752,601 747.8,600.2 C744,599 742,595.5 742.6,592.4 C743,588 746,583 750,579.5 C754,575.5 760,571.5 766.1,569 Z" fill="#434346"/>
<!-- torso/shirt -->
<path d="M836.4,454.3 C843,453.5 850,454.6 857.3,456.9 C872,461.5 886,468 900,475.1 C915,483 928,495 937,508 C944,517 949.5,526 953.3,537.7 C940,541.5 925,542.5 910,541 C895,539 885,536.5 878.9,534 C872,535 866,535 862.5,535.1 C852,538.5 841,542 832,545.5 L829,548 C822,540 816,530 812,520 C808,510 806.5,500 808,492 C810,487 813,484.5 815.6,483 C822,476 829,466 836.4,454.3 Z" fill="#d6ddec"/>
<path d="M900,475.1 C915,483 928,495 937,508 C944,517 949.5,526 953.3,537.7 C940,541.5 925,542.5 910,541 C895,539 885,536.5 878.9,534 C888,530 896,524 898,515 C902,522 912,528 926,530 C918,520 908,505 900,490 Z" fill="#c1cadf"/>
<!-- near arm -->
<path d="M836,497 C835.5,505 834.8,513.5 833.8,521.7 C832.5,531 830.8,540.5 828.6,549.5 C825.8,556.8 822.2,563.8 818.2,570.3 C813.8,577.4 809,584.4 804.3,591.1 L814.7,599.8 C820.6,595.9 826.4,591.9 832.1,587.7 C836.5,582.2 840.5,576.3 844.3,570.3 C848.6,564.7 852.6,558.9 856.4,552.9 C859.2,546.7 861.5,540.3 863.4,533.8 C864,522 860,508 852,497 Z" fill="#d6ddec"/>
<path d="M833.8,521.7 C832.5,531 830.8,540.5 828.6,549.5 C825.8,556.8 822.2,563.8 818.2,570.3 C813.8,577.4 809,584.4 804.3,591.1 L807.5,593.8 C813,586 818.5,578 823.5,570 C828,562.5 831.5,554.5 834,546 C835.5,538 836,530 836,522 Z" fill="#c1cadf"/>
<path d="M829,549.5 C827.5,546 827.3,543 828,541 L830.5,541 Z" fill="#6e7684"/>
<!-- near glove -->
<path d="M804.3,591.1 L814.7,599.8 C812.5,605 809.5,610 805.5,614 C802,617 798,619.4 794,619.2 C790,619 786.5,617 785.4,613.4 C784.6,610 786,606 788.6,602.6 C792.6,597.6 798,593.6 804.3,591.1 Z" fill="#434346"/>
<!-- face -->
<path d="M780.2,468.9 C786,462 796,455 808,451 L824,449 C823.5,458 823.2,466 822.3,473.6 C820.5,478 818,481 815.3,483 C813.5,484 812,484.6 810.6,485.3 C808.8,487.8 807,489.8 804.8,491.2 C803,492.2 801.5,492.3 800.1,491.8 C797,490.6 794.2,488.6 791.9,486.5 C790.5,485 789,483.8 787.2,483 C786,483.2 784.6,483 783.7,482.4 C783.6,481 783.4,479.6 783.1,478.3 C782.4,475 781.4,472 780.2,468.9 Z" fill="#4b4d51"/>
<!-- hair -->
<path d="M819.5,452.5 L831.7,450.5 C834.6,454 836,458 836.4,461.9 C836.6,465 836,468.5 835.2,471.3 C834,474.5 832.6,477.5 831.7,480.6 C831,483.8 830.9,487 831.1,490 C831.2,492.2 831.6,494.2 831.7,495.9 C831.2,498.6 830.4,501 829.4,502.9 C828.4,500 827.6,497.2 827,494.7 C826,490.6 824.6,486.6 823.5,483 C822.5,479.8 821.6,476.8 821.2,473.6 C820.4,466.5 819.8,459.5 819.5,452.5 Z" fill="#3b3a39"/>
<!-- hat -->
<path d="M770.2,454.8 C769.6,450 769.2,445 769.6,440.8 C770.2,438 771.4,435.6 773.1,433.8 C776.5,430.8 781,428.8 786,427.3 C791,425.8 796,424.6 801.3,423.8 C805,423.3 808.6,423.1 811.8,423.4 C813.3,423.8 814.5,424.5 815.3,425.5 C817.2,428 818.7,430.8 820,433.8 C821.3,436 822.5,438.2 823.5,440.2 L823.5,446 L772,460 Z" fill="#c6976b"/>
<path d="M753.2,478.9 C753.6,477 754.4,475.2 755.5,473.6 C757.3,470.8 759.3,468 761.4,465.4 C764.4,461.8 767.4,458.2 770.2,454.8 C776,453.2 783,451 792,448.2 C800,445.6 808.5,443 815,441.6 C818,440.9 821,440.4 823.5,440.2 C828,440.8 832.4,441.6 836.4,442.5 C839.3,443.1 842.2,443.7 844.6,444.3 C846,444.8 847,445.4 847,446.1 C846.8,446.8 846,447.3 844.8,447.6 C842.8,448.2 840.8,448.6 838.8,449 C835,449.6 831,450 827,450.2 C823,450.8 819,451.6 815.3,452.5 C810.5,453.8 805.8,455.4 801.3,457.2 C797.2,458.7 793.2,460.3 789.5,461.9 C786,463.7 782.4,465.6 779,467.7 C775.4,469.7 771.8,471.7 768.4,473.6 C764.4,475.8 760.4,477.8 756.7,479.5 C755.2,480 753.8,479.8 753.2,478.9 Z" fill="#bc8b5f"/>
<path d="M770.2,454.8 C776,453.2 783,451 792,448.2 C800,445.6 808.5,443 815,441.6 C818,440.9 821,440.4 823.5,440.2" fill="none" stroke="#a67a50" stroke-width="1.2"/>
<path d="M778,434 C786,431 796,428.6 806,427.6" fill="none" stroke="#b58a60" stroke-width="1" stroke-linecap="round"/>
<!-- treads -->
<g fill="#fff">
<rect x="806" y="671.6" width="2.2" height="2" /><rect x="813" y="671.6" width="2.2" height="2"/><rect x="820" y="671.6" width="2.2" height="2"/><rect x="827" y="671.6" width="2.2" height="2"/><rect x="834" y="671.6" width="2.2" height="2"/><rect x="843" y="671.6" width="2.2" height="2"/><rect x="851" y="671.6" width="2.2" height="2"/><rect x="858" y="671.6" width="2.2" height="2"/>
</g>
<g stroke="#fff" stroke-width="1.3">
<path d="M1009.2,622 L1011.4,621.2"/><path d="M1010.6,630 L1012.6,629.6"/><path d="M1011.2,638 L1013.2,637.8"/><path d="M1011.4,646 L1013.4,646"/><path d="M1011.2,654 L1013.2,654.2"/><path d="M1010.4,662 L1012.4,662.6"/><path d="M1008.6,669 L1010.6,670"/>
</g>
</g>
<!--/FARMER-->

<!--ARROWS-->
<g stroke="#0a0a0a" stroke-width="2.6" fill="none" stroke-linecap="butt">
<line x1="137.6" y1="305.8" x2="166" y2="364.5" marker-end="url(#ah)"/>
<line x1="201.4" y1="304.1" x2="201.4" y2="357.5" marker-end="url(#ah)"/>
<line x1="272.9" y1="299.7" x2="235.6" y2="363" marker-end="url(#ah)"/>
<line x1="283.2" y1="418.3" x2="393.5" y2="380" marker-end="url(#ah)"/>
<line x1="535" y1="381.3" x2="730.5" y2="457.6" marker-end="url(#ah)"/>
<line x1="402" y1="559" x2="461" y2="558.7" marker-end="url(#ah)"/>
<line x1="721" y1="539.1" x2="776.3" y2="523.7" marker-end="url(#ah)"/>
<path d="M288.4,699.9 L290.6,701.8 L293.3,704.4 L296.5,707.3 L300.0,710.7 L304.0,714.3 L308.2,718.0 L312.6,721.8 L317.2,725.6 L321.9,729.2 L326.6,732.5 L331.5,735.7 L336.8,739.0 L342.3,742.2 L348.0,745.5 L353.8,748.8 L359.7,751.9 L365.7,755.0 L371.7,758.0 L377.6,760.9 L383.3,763.6 L389.0,766.2 L394.6,768.6 L400.3,771.0 L405.9,773.3 L411.6,775.4 L417.3,777.5 L422.9,779.5 L428.6,781.4 L434.2,783.2 L439.9,784.9 L445.6,786.5 L451.3,788.1 L457.1,789.5 L462.8,790.9 L468.6,792.1 L474.3,793.3 L480.0,794.4 L485.6,795.3 L491.1,796.2 L496.6,797.0 L502.0,797.7 L507.3,798.2 L512.5,798.7 L517.7,799.1 L522.8,799.3 L527.9,799.5 L533.0,799.6 L538.0,799.6 L543.0,799.5 L548.0,799.4 L552.9,799.2 L557.8,798.9 L562.5,798.6 L567.3,798.2 L572.0,797.6 L576.7,797.0 L581.5,796.3 L586.4,795.4 L591.4,794.4 L596.6,793.3 L601.9,792.0 L607.4,790.5 L613.0,789.0 L618.7,787.2 L624.5,785.4 L630.2,783.5 L636.0,781.4 L641.8,779.3 L647.6,777.1 L653.3,774.9 L659.0,772.5 L664.9,770.0 L670.7,767.4 L676.6,764.7 L682.5,761.9 L688.3,759.1 L694.0,756.2 L699.5,753.4 L704.8,750.7 L709.9,748.0 L714.8,745.4 L719.5,742.7 L724.1,740.0 L728.6,737.3 L732.9,734.6 L737.1,732.0 L741.1,729.5 L745.0,727.0 L748.8,724.7 L752.4,722.5 L756.0,720.4 L759.5,718.3 L762.9,716.2 L766.2,714.2 L769.4,712.3 L772.3,710.5 L775.0,708.9 L777.3,707.5 L779.4,706.3 L781.0,705.3" stroke-width="2.9" stroke-linejoin="round"/>
</g>
<path d="M790.6,699.3 L774.5,701.2 L783.6,714 Z" fill="#0a0a0a"/>
<!--/ARROWS-->
<!--CURVED-->
<path d="M891.0,402.1 L891.5,401.7 L892.1,401.2 L892.8,400.7 L893.6,400.0 L894.4,399.4 L895.3,398.6 L896.2,397.9 L897.2,397.1 L898.2,396.4 L899.3,395.7 L900.4,395.0 L901.5,394.4 L902.7,393.8 L903.9,393.4 L905.2,393.0 L906.5,392.6 L907.9,392.2 L909.4,391.9 L910.9,391.6 L912.5,391.3 L914.1,391.0 L915.7,390.8 L917.4,390.6 L919.0,390.5 L920.7,390.4 L922.3,390.3 L924.0,390.3 L925.6,390.3 L927.2,390.4 L928.8,390.5 L930.5,390.6 L932.2,390.8 L933.8,391.0 L935.5,391.2 L937.2,391.5 L938.9,391.9 L940.6,392.3 L942.3,392.7 L944.0,393.2 L945.6,393.7 L947.3,394.3 L949.0,394.9 L950.7,395.6 L952.3,396.3 L954.1,397.1 L955.8,398.0 L957.5,398.9 L959.2,399.8 L960.9,400.8 L962.6,401.8 L964.3,402.9 L965.9,404.0 L967.6,405.2 L969.2,406.3 L970.7,407.6 L972.3,408.8 L973.8,410.1 L975.3,411.5 L976.8,412.9 L978.3,414.4 L979.8,415.9 L981.2,417.4 L982.7,419.0 L984.1,420.6 L985.4,422.3 L986.7,423.9 L988.0,425.6 L989.3,427.2 L990.5,428.9 L991.6,430.5 L992.7,432.1 L993.7,433.8 L994.7,435.4 L995.6,437.1 L996.6,438.8 L997.4,440.5 L998.3,442.3 L999.1,444.0 L999.8,445.7 L1000.6,447.4 L1001.3,449.1 L1001.9,450.8 L1002.6,452.4 L1003.2,454.1 L1003.7,455.7 L1004.2,457.3 L1004.7,458.9 L1005.2,460.5 L1005.6,462.1 L1005.9,463.6 L1006.3,465.2 L1006.6,466.7 L1006.9,468.2 L1007.1,469.7 L1007.3,471.2 L1007.5,472.6 L1007.6,474.0 L1007.7,475.4 L1007.8,476.7 L1007.8,478.0 L1007.8,479.3 L1007.6,480.7 L1007.5,482.0 L1007.3,483.3 L1007.1,484.6 L1006.9,485.9 L1006.7,487.1 L1006.5,488.2 L1006.3,489.2 L1006.2,490.2 L1006.0,491.0 L1005.9,491.7 L1010.5,492.3 L1010.6,491.7 L1010.7,490.9 L1010.8,490.0 L1011.0,489.0 L1011.2,487.8 L1011.4,486.6 L1011.6,485.3 L1011.8,483.9 L1011.9,482.5 L1012.0,481.0 L1012.1,479.5 L1012.2,478.0 L1012.1,476.5 L1012.1,475.0 L1011.9,473.6 L1011.7,472.1 L1011.5,470.6 L1011.3,469.1 L1011.0,467.5 L1010.7,465.9 L1010.3,464.3 L1009.9,462.7 L1009.5,461.0 L1009.1,459.4 L1008.6,457.7 L1008.0,456.1 L1007.5,454.4 L1006.8,452.7 L1006.2,451.1 L1005.5,449.4 L1004.8,447.6 L1004.1,445.9 L1003.3,444.2 L1002.5,442.4 L1001.6,440.6 L1000.7,438.9 L999.7,437.1 L998.8,435.4 L997.7,433.6 L996.7,431.9 L995.6,430.2 L994.4,428.5 L993.2,426.9 L992.0,425.2 L990.7,423.5 L989.3,421.9 L987.9,420.2 L986.5,418.5 L985.0,416.9 L983.5,415.3 L982.0,413.7 L980.4,412.2 L978.9,410.7 L977.3,409.3 L975.7,407.9 L974.1,406.6 L972.5,405.3 L970.8,404.1 L969.2,402.9 L967.5,401.7 L965.7,400.6 L964.0,399.6 L962.2,398.5 L960.4,397.6 L958.6,396.6 L956.9,395.7 L955.1,394.9 L953.3,394.1 L951.6,393.4 L949.8,392.7 L948.1,392.1 L946.3,391.5 L944.6,391.0 L942.8,390.6 L941.1,390.2 L939.3,389.8 L937.6,389.5 L935.8,389.2 L934.1,389.0 L932.4,388.8 L930.7,388.7 L929.0,388.6 L927.3,388.5 L925.6,388.5 L923.9,388.5 L922.3,388.6 L920.6,388.7 L918.9,388.8 L917.2,389.0 L915.5,389.2 L913.8,389.5 L912.2,389.8 L910.6,390.1 L909.1,390.5 L907.6,390.9 L906.2,391.3 L904.8,391.8 L903.5,392.2 L902.2,392.7 L901.0,393.4 L899.8,394.0 L898.7,394.8 L897.6,395.5 L896.6,396.3 L895.6,397.1 L894.7,397.9 L893.8,398.7 L893.0,399.4 L892.3,400.1 L891.6,400.6 L891.1,401.1 L890.6,401.5 Z" fill="#1a1a1a"/>
<path d="M999,489.1 L1015.9,501 L998.6,509.9 Z" fill="#1a1a1a"/>
<path d="M611.0,713.3 L610.9,713.8 L610.8,714.3 L610.7,714.8 L610.6,715.5 L610.5,716.2 L610.4,716.9 L610.3,717.7 L610.1,718.5 L610.0,719.4 L609.7,720.3 L609.5,721.2 L609.2,722.2 L608.8,723.2 L608.4,724.2 L607.9,725.3 L607.4,726.5 L606.8,727.7 L606.2,729.1 L605.6,730.4 L604.9,731.8 L604.2,733.3 L603.4,734.7 L602.6,736.1 L601.8,737.5 L600.9,738.9 L600.1,740.2 L599.1,741.4 L598.2,742.6 L597.2,743.7 L596.1,744.9 L595.0,746.0 L593.9,747.1 L592.7,748.1 L591.5,749.2 L590.3,750.2 L589.0,751.2 L587.7,752.2 L586.4,753.1 L585.1,754.0 L583.8,754.8 L582.4,755.6 L581.1,756.3 L579.8,757.0 L578.4,757.6 L576.9,758.2 L575.5,758.7 L574.0,759.2 L572.5,759.7 L570.9,760.1 L569.4,760.5 L567.9,760.9 L566.5,761.2 L565.1,761.5 L563.7,761.7 L562.3,762.0 L561.1,762.2 L559.9,762.4 L558.8,762.5 L557.8,762.6 L556.9,762.7 L556.0,762.8 L555.1,762.8 L554.3,762.8 L553.4,762.8 L552.6,762.7 L551.7,762.6 L550.7,762.4 L549.7,762.3 L548.7,762.0 L547.5,761.8 L546.3,761.5 L544.9,761.1 L543.5,760.7 L542.1,760.3 L540.6,759.9 L539.1,759.4 L537.6,758.8 L536.1,758.3 L534.6,757.7 L533.1,757.0 L531.7,756.4 L530.3,755.7 L529.0,755.0 L527.7,754.3 L526.5,753.5 L525.3,752.7 L524.0,751.8 L522.9,750.9 L521.7,750.0 L520.6,749.0 L519.5,748.0 L518.4,747.0 L517.3,746.0 L516.3,744.9 L515.3,743.8 L514.4,742.8 L513.5,741.7 L512.7,740.6 L511.9,739.4 L511.2,738.2 L510.5,736.9 L509.8,735.4 L509.1,734.0 L508.5,732.5 L507.9,731.0 L507.3,729.6 L506.8,728.2 L506.3,726.9 L505.9,725.7 L505.4,724.6 L505.1,723.6 L504.7,722.8 L501.3,724.4 L501.6,725.1 L501.9,725.9 L502.3,727.0 L502.8,728.2 L503.3,729.5 L503.9,730.9 L504.5,732.4 L505.1,733.9 L505.8,735.5 L506.5,737.0 L507.3,738.5 L508.1,740.0 L509.0,741.3 L509.9,742.6 L510.8,743.8 L511.8,745.0 L512.8,746.1 L513.9,747.2 L515.0,748.3 L516.1,749.4 L517.2,750.5 L518.4,751.5 L519.7,752.5 L520.9,753.5 L522.2,754.4 L523.5,755.3 L524.8,756.1 L526.1,756.9 L527.5,757.7 L528.9,758.4 L530.4,759.1 L531.9,759.8 L533.5,760.4 L535.1,761.0 L536.7,761.6 L538.2,762.1 L539.8,762.6 L541.3,763.0 L542.8,763.4 L544.2,763.8 L545.6,764.1 L546.9,764.4 L548.1,764.7 L549.2,764.9 L550.3,765.1 L551.3,765.2 L552.3,765.3 L553.3,765.4 L554.2,765.4 L555.2,765.4 L556.1,765.4 L557.1,765.3 L558.1,765.2 L559.2,765.0 L560.3,764.8 L561.5,764.6 L562.8,764.4 L564.1,764.1 L565.5,763.8 L567.0,763.5 L568.5,763.1 L570.0,762.7 L571.6,762.3 L573.1,761.8 L574.7,761.3 L576.2,760.8 L577.7,760.2 L579.2,759.5 L580.7,758.8 L582.1,758.1 L583.5,757.3 L584.8,756.5 L586.2,755.6 L587.5,754.7 L588.8,753.7 L590.1,752.7 L591.4,751.6 L592.7,750.6 L593.9,749.5 L595.1,748.3 L596.2,747.2 L597.4,746.0 L598.4,744.8 L599.4,743.6 L600.4,742.4 L601.3,741.0 L602.2,739.7 L603.1,738.2 L603.9,736.8 L604.6,735.3 L605.4,733.9 L606.1,732.4 L606.7,731.0 L607.3,729.6 L607.9,728.2 L608.5,726.9 L608.9,725.7 L609.4,724.6 L609.8,723.5 L610.2,722.5 L610.4,721.5 L610.7,720.5 L610.9,719.5 L611.0,718.6 L611.2,717.8 L611.3,717.0 L611.3,716.3 L611.4,715.6 L611.5,714.9 L611.5,714.4 L611.6,713.9 L611.6,713.5 Z" fill="#1a1a1a"/>
<path d="M501.1,705.6 L494.1,723.6 L510.9,722.5 Z" fill="#1a1a1a"/>
<!--/CURVED-->

<!--TEXT-->
<g filter="url(#idf)">
<text x="85.3" y="284" textLength="67" lengthAdjust="spacingAndGlyphs">saliva</text>
<text x="170.6" y="284" textLength="59" lengthAdjust="spacingAndGlyphs">urine</text>
<text x="254.6" y="284" textLength="63.6" lengthAdjust="spacingAndGlyphs">feces</text>
<text x="384.6" y="207.4" textLength="131.6" lengthAdjust="spacingAndGlyphs">Nipah virus</text>
<text x="380.6" y="471.6" textLength="162.6" lengthAdjust="spacingAndGlyphs">contaminated</text>
<text x="403.8" y="502.4" textLength="117.4" lengthAdjust="spacingAndGlyphs">date palm</text>
<text x="440.6" y="532.3" textLength="42.6" lengthAdjust="spacingAndGlyphs">sap</text>
<text x="217.3" y="545.4" textLength="162.6" lengthAdjust="spacingAndGlyphs">contaminated</text>
<text x="274.4" y="575.4" textLength="49.4" lengthAdjust="spacingAndGlyphs">fruit</text>
<text x="525.4" y="717" textLength="64" lengthAdjust="spacingAndGlyphs">pig to</text>
<text x="539.6" y="746.8" textLength="37" lengthAdjust="spacingAndGlyphs">pig</text>
<text x="885.4" y="447.2" textLength="109.8" lengthAdjust="spacingAndGlyphs">human to</text>
<text x="900.2" y="477.8" textLength="81.6" lengthAdjust="spacingAndGlyphs">human</text>
</g>
<!--/TEXT-->
</svg>
</body></html>
